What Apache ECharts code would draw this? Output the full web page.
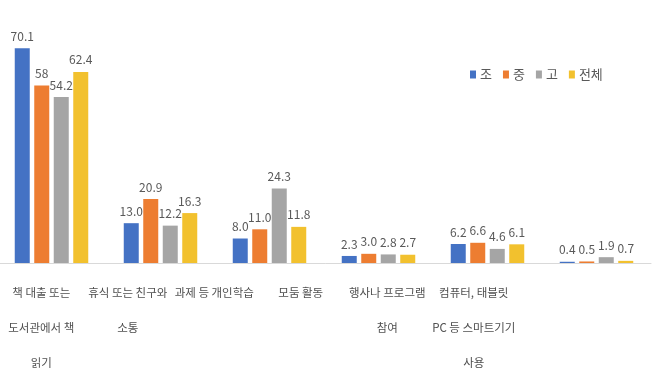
<!DOCTYPE html>
<html>
<head>
<meta charset="utf-8">
<script src="https://cdn.jsdelivr.net/npm/echarts@6/dist/echarts.min.js"></script>
<style>
html,body{margin:0;padding:0;background:#fff;}
#chart{width:658px;height:387px;}
</style>
</head>
<body>
<div id="chart"></div>
<script>
const categories = [
  '책 대출 또는\n도서관에서 책\n읽기',
  '휴식 또는 친구와\n소통',
  '과제 등 개인학습',
  '모둠 활동',
  '행사나 프로그램\n참여',
  '컴퓨터, 태블릿\nPC 등 스마트기기\n사용'
];
const seriesNames = ['조', '중', '고', '전체'];
const cho  = ['70.1', '13.0', '8.0', '2.3', '6.2', '0.4'];
const jung = ['58', '20.9', '11.0', '3.0', '6.6', '0.5'];
const go   = ['54.2', '12.2', '24.3', '2.8', '4.6', '1.9'];
const total = ['62.4', '16.3', '11.8', '2.7', '6.1', '0.7'];
const seriesValues = [cho, jung, go, total];
const colors = ['#4472C4', '#ED7D31', '#A5A5A5', '#F2C12E'];

const FONT = '"Noto Sans CJK KR", "Noto Sans", sans-serif';

const chart = echarts.init(document.getElementById('chart'), null, {renderer: 'canvas'});

const series = seriesValues.map((vals, i) => ({
  name: seriesNames[i],
  type: 'bar',
  xAxisIndex: 0,
  yAxisIndex: 0,
  barWidth: 15,
  barGap: '30%',
  itemStyle: {color: colors[i]},
  label: {
    show: true,
    position: 'top',
    distance: 6,
    color: '#595959',
    fontSize: 12,
    fontFamily: FONT,
    formatter: p => vals[p.dataIndex]
  },
  data: vals.map(Number)
}));

chart.setOption({
  animation: false,
  backgroundColor: '#ffffff',
  color: colors,
  textStyle: {fontFamily: FONT},
  legend: {
    data: seriesNames,
    left: 465,
    top: 63,
    itemWidth: 6,
    itemHeight: 8,
    itemGap: 11,
    icon: 'rect',
    textStyle: {color: '#595959', fontSize: 13, fontFamily: FONT, padding: [0, 0, 0, -1]}
  },
  grid: [
    {left: -3, width: 654, top: 18, bottom: 124, outerBoundsMode: 'none', containLabel: false},
    {left: -2, width: 519, top: 18, bottom: 124, outerBoundsMode: 'none', containLabel: false}
  ],
  xAxis: [
    {
      type: 'category', gridIndex: 0, data: categories,
      axisLine: {show: true, lineStyle: {color: '#d9d9d9', width: 1}},
      axisTick: {show: false},
      axisLabel: {show: false}
    },
    {
      type: 'category', gridIndex: 1, data: categories,
      axisLine: {show: false},
      axisTick: {show: false},
      axisLabel: {
        show: true, interval: 0, margin: 12,
        fontSize: 11.5, lineHeight: 35, color: '#505050', fontFamily: FONT,
        hideOverlap: false
      }
    }
  ],
  yAxis: [
    {type: 'value', gridIndex: 0, min: 0, max: 80, show: false, splitLine: {show: false}},
    {type: 'value', gridIndex: 1, min: 0, max: 80, show: false, splitLine: {show: false}}
  ],
  series: series
});
</script>
</body>
</html>
